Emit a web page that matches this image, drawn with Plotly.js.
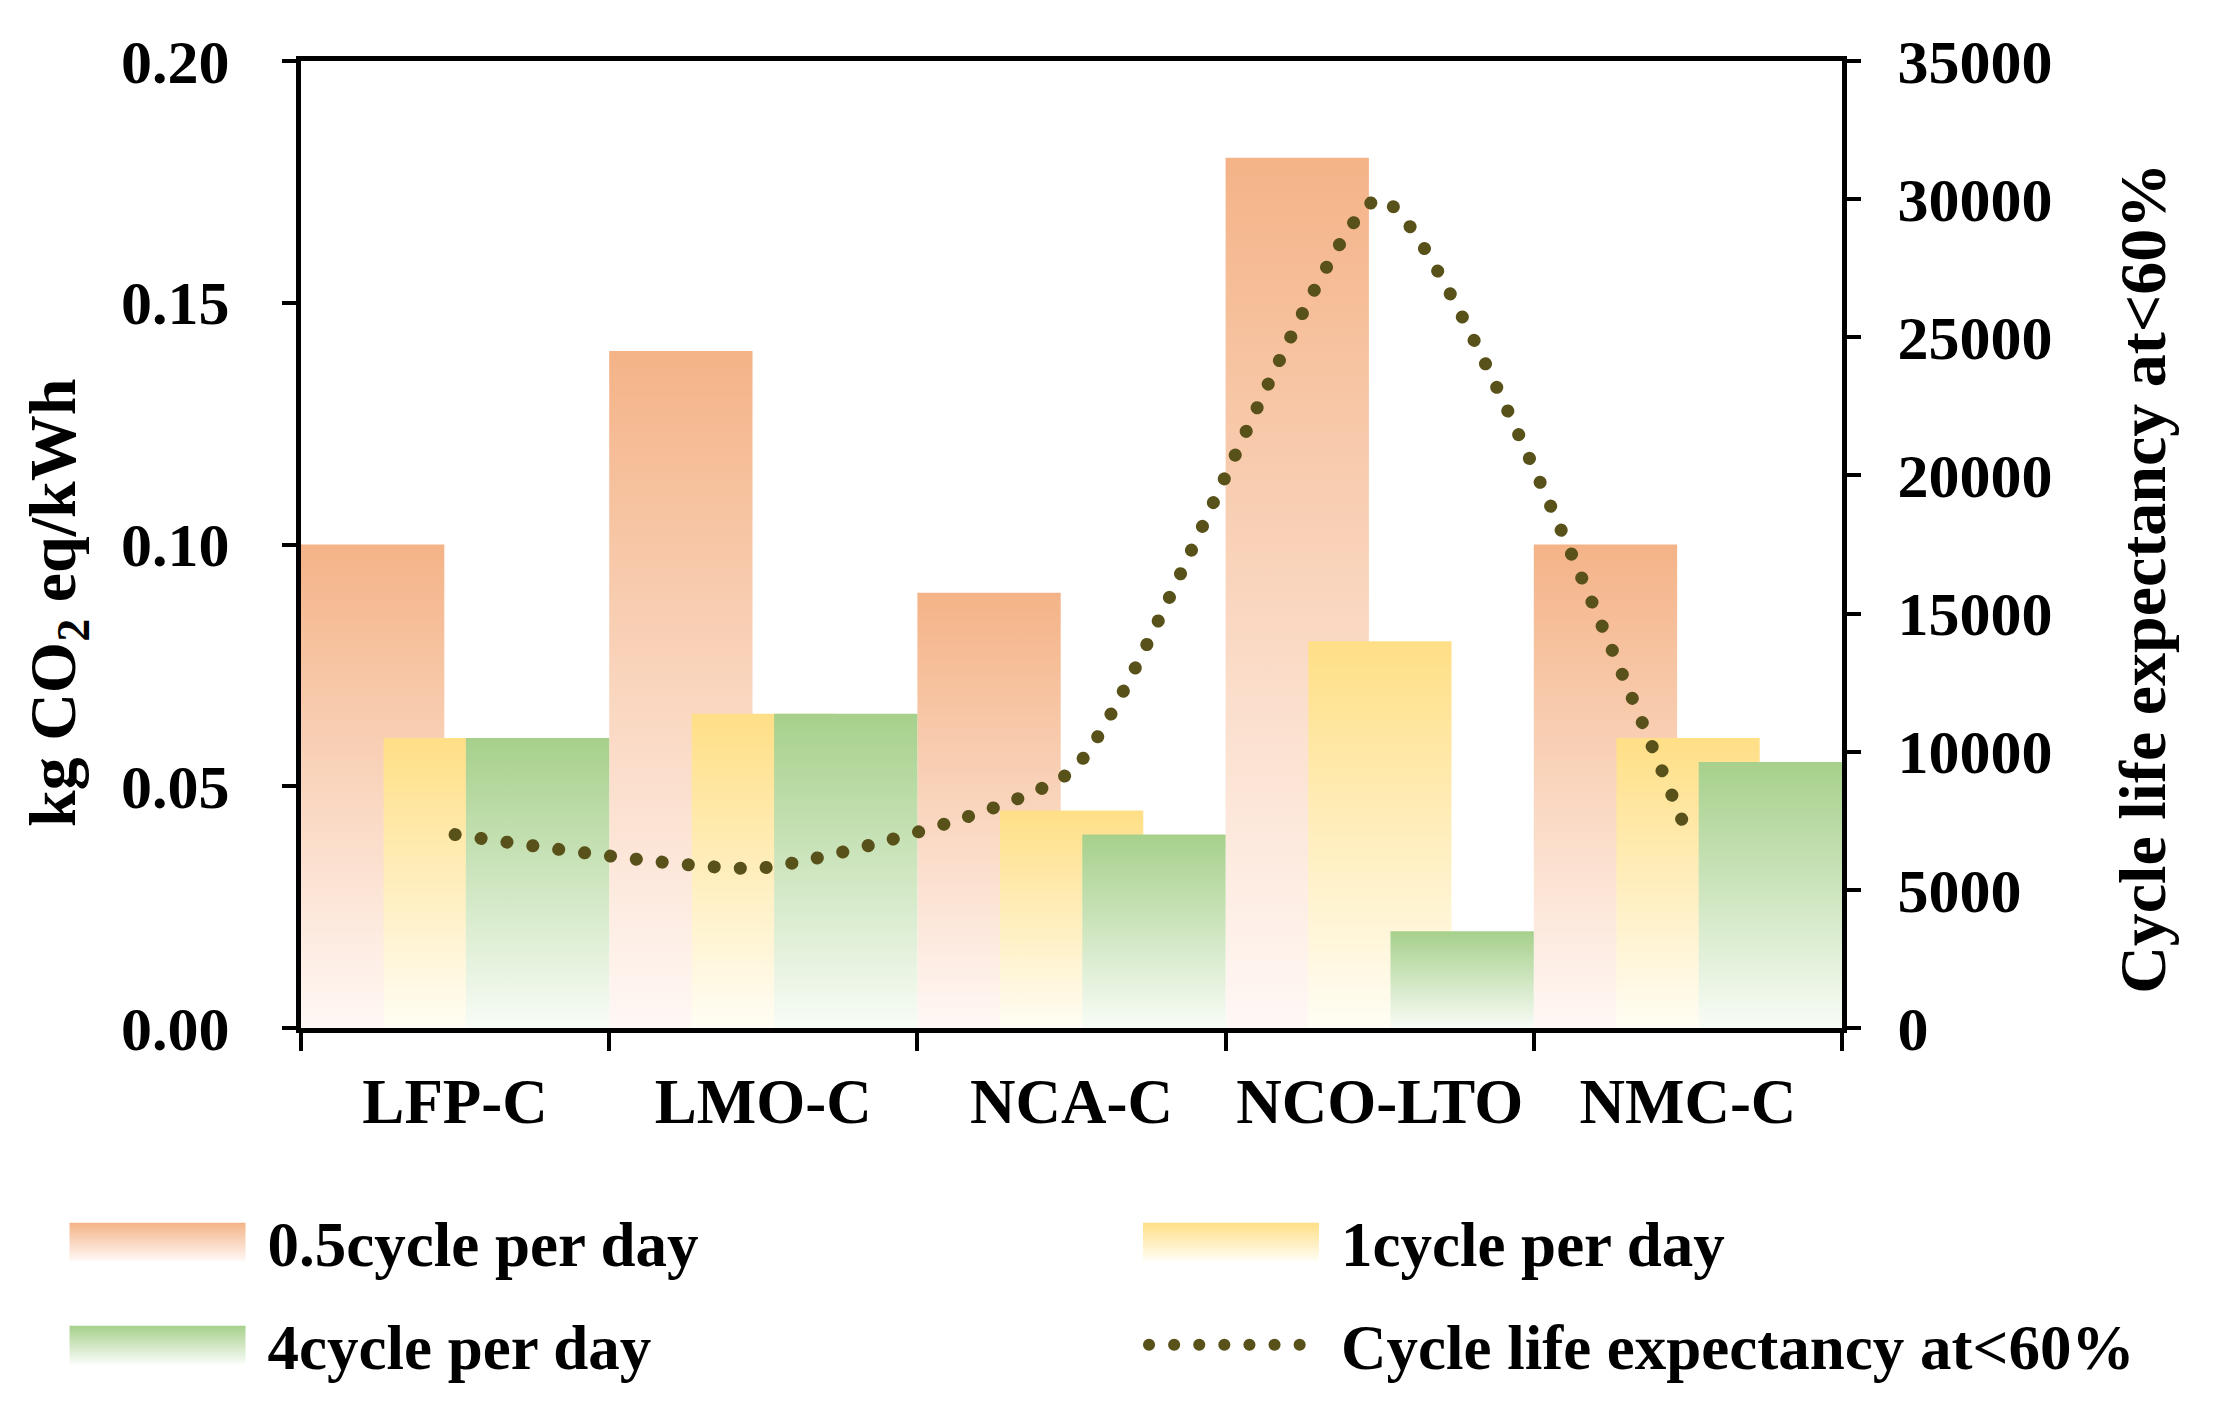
<!DOCTYPE html>
<html>
<head>
<meta charset="utf-8">
<script src="https://cdn.plot.ly/plotly-3.0.1.min.js"></script>
<style>
  html, body { margin: 0; padding: 0; background: #fff; }
  #chart { width: 2217px; height: 1419px; }
</style>
</head>
<body>
<div id="chart"></div>
<script>
// battery chemistries and values
var batteries = ['LFP-C', 'LMO-C', 'NCA-C', 'NCO-LTO', 'NMC-C'];
var halfCycle = [0.10, 0.14, 0.09, 0.18, 0.10];     // 0.5cycle per day
var oneCycle = [0.06, 0.065, 0.045, 0.08, 0.06];    // 1cycle per day
var fourCycle = [0.06, 0.065, 0.04, 0.02, 0.055];   // 4cycle per day
var cycleLife = [7000, 5800, 9300, 30000, 7000];    // cycle life expectancy at<60%

var leftTicks = [0, 0.05, 0.10, 0.15, 0.20];
var leftLabels = ['0.00', '0.05', '0.10', '0.15', '0.20'];
var rightTicks = [0, 5000, 10000, 15000, 20000, 25000, 30000, 35000];
var rightLabels = ['0', '5000', '10000', '15000', '20000', '25000', '30000', '35000'];

var seriesNames = ['0.5cycle per day', '1cycle per day', '4cycle per day', 'Cycle life expectancy at<60%'];
var leftTitle = 'kg CO<sub>2</sub> eq/kWh';
var rightTitle = 'Cycle life expectancy at<60%';
// left legend column: 0.5 and 4 cycles, right column: 1 cycle and the line
var legendOf = ['legend', 'legend2', 'legend', 'legend2'];

// top and bottom colour of each bar gradient
var gradTop = ['#f4b387', '#ffdf86', '#a6d08b'];
var gradBottom = ['#fff8f5', '#fffdf4', '#f8fcf6'];
var lineColor = '#59511a';

var FONT = 'Liberation Serif, Times New Roman, serif';
var font = { family: FONT, size: 63, color: '#000', weight: 'bold' };
var tickFont = { family: FONT, size: 62, color: '#000', weight: 'bold' };
var titleFont = { family: FONT, size: 66, color: '#000', weight: 'bold' };

var barWidth = 0.465;
var barOffsets = [-0.5, -0.232, 0.035];

var data = [halfCycle, oneCycle, fourCycle].map(function (vals, i) {
  return {
    type: 'bar',
    name: seriesNames[i],
    legend: legendOf[i],
    legendgroup: 'g' + i,
    x: batteries,
    y: vals,
    width: barWidth,
    offset: barOffsets[i],
    marker: { color: gradTop[i], line: { width: 0 } },
    hoverinfo: 'skip'
  };
});

data.push({
  type: 'scatter',
  mode: 'lines',
  name: seriesNames[3],
  legend: legendOf[3],
  legendgroup: 'g3',
  x: batteries,
  y: cycleLife,
  yaxis: 'y2',
  line: { color: lineColor, width: 13, dash: '12px,14px', shape: 'spline', smoothing: 0.5 },
  hoverinfo: 'skip'
});

var legendBase = {
  orientation: 'v',
  xanchor: 'left',
  yanchor: 'top',
  y: -0.172,
  itemwidth: 200,
  tracegroupgap: 18,
  font: font,
  traceorder: 'grouped',
  bgcolor: 'rgba(0,0,0,0)'
};

var axisLine = {
  ticks: 'outside',
  tickwidth: 4,
  tickcolor: '#000',
  showline: true,
  linewidth: 5,
  linecolor: '#000',
  showgrid: false,
  zeroline: false
};

var layout = {
  width: 2217,
  height: 1419,
  margin: { l: 301, r: 375, t: 61, b: 391 },
  paper_bgcolor: '#fff',
  plot_bgcolor: '#fff',
  font: font,
  barmode: 'overlay',
  showlegend: true,
  xaxis: Object.assign({}, axisLine, {
    type: 'category',
    tickson: 'boundaries',
    ticklen: 18,
    mirror: true,
    ticklabelstandoff: 14,
    tickfont: font
  }),
  yaxis: Object.assign({}, axisLine, {
    range: [0, 0.2],
    tickvals: leftTicks,
    ticktext: leftLabels,
    ticklen: 14,
    ticklabelstandoff: 40,
    tickfont: tickFont
  }),
  yaxis2: Object.assign({}, axisLine, {
    overlaying: 'y',
    side: 'right',
    range: [0, 35000],
    tickvals: rightTicks,
    ticktext: rightLabels,
    ticklen: 14,
    ticklabelstandoff: 24,
    tickfont: tickFont
  }),
  annotations: [
    { text: leftTitle, xref: 'paper', yref: 'paper', x: -0.158, y: 0.44, xanchor: 'center', yanchor: 'middle',
      textangle: -90, showarrow: false, font: titleFont },
    { text: rightTitle, xref: 'paper', yref: 'paper', x: 1.195, y: 0.465, xanchor: 'center', yanchor: 'middle',
      textangle: -90, showarrow: false, font: titleFont }
  ],
  legend: Object.assign({}, legendBase, { x: -0.158 }),
  legend2: Object.assign({}, legendBase, { x: 0.5386 })
};

var svgNS = 'http://www.w3.org/2000/svg';

function makeGradients() {
  if (document.getElementById('barGrad0')) return;
  var svg = document.querySelector('#chart svg.main-svg');
  var defs = document.createElementNS(svgNS, 'defs');
  svg.insertBefore(defs, svg.firstChild);
  gradTop.forEach(function (c, i) {
    var g = document.createElementNS(svgNS, 'linearGradient');
    g.setAttribute('id', 'barGrad' + i);
    g.setAttribute('x1', '0'); g.setAttribute('y1', '0');
    g.setAttribute('x2', '0'); g.setAttribute('y2', '1');
    [[0, c], [1, gradBottom[i]]].forEach(function (s) {
      var st = document.createElementNS(svgNS, 'stop');
      st.setAttribute('offset', s[0]);
      st.setAttribute('stop-color', s[1]);
      g.appendChild(st);
    });
    defs.appendChild(g);
  });
}

function restyleMarks(gd) {
  makeGradients();
  // bars get a vertical fade like the original
  gd.querySelectorAll('.barlayer .trace').forEach(function (tr, i) {
    tr.querySelectorAll('path').forEach(function (p) {
      p.style.fill = 'url(#barGrad' + i + ')';
    });
  });
  // round dots on the cycle life line
  gd.querySelectorAll('.scatterlayer .js-line').forEach(function (p) {
    p.style.strokeDasharray = '0.1px,26px';
    p.style.strokeLinecap = 'round';
  });

  // long legend swatches (legend2 uses its own text class, so take any text)
  gd.querySelectorAll('g.traces').forEach(function (tr) {
    try {
      var text = tr.querySelector('text');
      if (!text) return;
      var idx = seriesNames.indexOf(text.textContent.trim());
      if (idx < 0) return;
      var sym = idx < 3 ? tr.querySelector('.legendpoints path') : tr.querySelector('.legendlines path');
      if (!sym) return;
      var pc = sym.getScreenCTM(), tc = text.getScreenCTM();
      var bb = text.getBBox();
      var right = bb.x + (tc.e - pc.e) - 22;
      var left = right - 176;
      if (idx < 3) {
        sym.setAttribute('d', 'M' + left + ',-19H' + right + 'V19H' + left + 'Z');
        sym.style.fill = 'url(#barGrad' + idx + ')';
        sym.style.strokeWidth = '0';
      } else {
        sym.setAttribute('d', 'M' + (left + 6) + ',0H' + right);
        sym.style.strokeDasharray = '0.1px,25px';
        sym.style.strokeLinecap = 'round';
        sym.style.strokeWidth = '12px';
      }
    } catch (e) { console.log(e); }
  });
}

var gd = document.getElementById('chart');
Plotly.newPlot(gd, data, layout, { displayModeBar: false, staticPlot: true }).then(function () {
  restyleMarks(gd);
  gd.on('plotly_afterplot', function () { restyleMarks(gd); });
});
</script>
</body>
</html>
